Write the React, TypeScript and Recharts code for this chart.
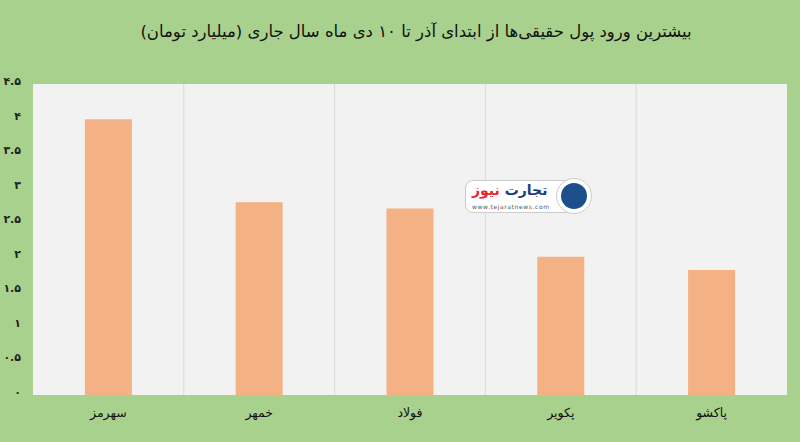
import React from 'react';
import { BarChart, Bar, XAxis, YAxis, CartesianGrid } from 'recharts';

const title = 'بیشترین ورود پول حقیقی‌ها از ابتدای آذر تا ۱۰ دی ماه سال جاری (میلیارد  تومان)';
const symbols = ['سهرمز', 'خمهر', 'فولاد', 'پکویر', 'پاکشو'];
const inflows = [3.99, 2.79, 2.7, 2.0, 1.81];
const yTicks = [0, 0.5, 1, 1.5, 2, 2.5, 3, 3.5, 4, 4.5];

const data = symbols.map((name, i) => ({ name, value: inflows[i] }));

const FONT = '"DejaVu Sans", sans-serif';
const toFa = (v: number) =>
  String(v).replace(/[0-9]/g, (d) => '۰۱۲۳۴۵۶۷۸۹'[Number(d)]);

const YTick = ({ x, y, payload }: any) => (
  <text x={x + 1} y={y - 2} textAnchor="end" dominantBaseline="middle"
    fontFamily={FONT} fontSize={11} fontWeight="bold" fill="#222">
    {toFa(payload.value)}
  </text>
);

const XTick = ({ x, payload }: any) => (
  <text x={x} y={413} textAnchor="middle" dominantBaseline="middle"
    fontFamily={FONT} fontSize={12.5} fill="#111">
    {payload.value}
  </text>
);

export default function App() {
  return (
    <div style={{ position: 'relative', width: 800, height: 442, background: '#a9d18e', overflow: 'hidden' }}>
      <style>{'body{margin:0}'}</style>
      <div style={{
        position: 'absolute', top: 22, left: 0, width: 800, textAlign: 'center',
        fontFamily: FONT, fontSize: 16.5, color: '#111', direction: 'rtl',
        paddingLeft: 32, boxSizing: 'border-box',
      }}>
        {title}
      </div>
      <BarChart width={800} height={442} data={data} barCategoryGap="34.4%"
        margin={{ top: 84, right: 13, bottom: 17, left: 0 }}>
        <CartesianGrid horizontal={false} fill="#f2f2f2" stroke="#d9d9d9"
          verticalCoordinatesGenerator={({ offset }: any) =>
            symbols.slice(1).map((_, i) => offset.left + ((i + 1) * offset.width) / symbols.length)} />
        <XAxis dataKey="name" height={30} axisLine={false} tickLine={false} tick={<XTick />} interval={0} />
        <YAxis domain={[0, 4.5]} ticks={yTicks} width={33} axisLine={false} tickLine={false}
          tickSize={0} tickMargin={13} tick={<YTick />} interval={0} />
        <Bar dataKey="value" fill="#f4b183" isAnimationActive={false} />
      </BarChart>
      <div style={{
        position: 'absolute', left: 465, top: 180, width: 112, height: 33,
        background: '#fff', borderRadius: 8, border: '1px solid #ccc', boxSizing: 'border-box',
      }}>
        <div style={{ position: 'absolute', top: 1, left: 6, fontFamily: FONT, fontSize: 14, fontWeight: 'bold', direction: 'rtl', whiteSpace: 'nowrap' }}>
          <span style={{ color: '#1b3f7a' }}>تجارت</span> <span style={{ color: '#e3262b' }}>نیوز</span>
        </div>
        <div style={{ position: 'absolute', top: 22, left: 6, fontFamily: FONT, fontSize: 6, color: '#555', letterSpacing: 0.6 }}>
          www.tejaratnews.com
        </div>
      </div>
      <div style={{
        position: 'absolute', left: 556, top: 178, width: 36, height: 36, borderRadius: 18,
        background: '#fff', border: '1px solid #ccc', boxSizing: 'border-box',
      }}>
        <div style={{ position: 'absolute', left: 4, top: 4, width: 26, height: 26, borderRadius: 13, background: '#1d4f8c' }} />
      </div>
    </div>
  );
}
